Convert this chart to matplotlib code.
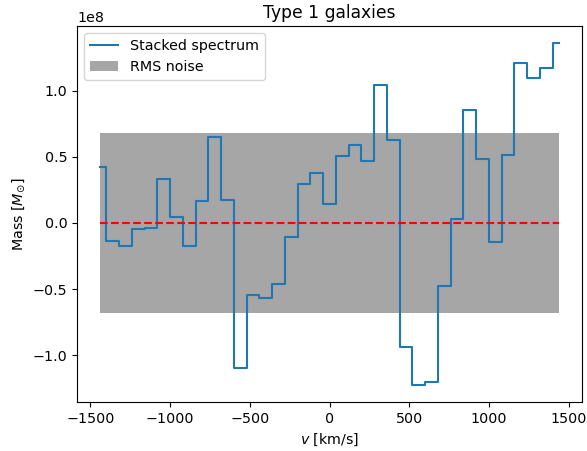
import numpy as np
import matplotlib
matplotlib.use("Agg")
import matplotlib.pyplot as plt

plt.rcParams['font.size'] = 10.3

# velocity channel centres (km/s)
velocity = [-1440, -1360, -1280, -1200, -1120, -1040, -960, -880, -800,
            -720, -640, -560, -480, -400, -320, -240, -160, -80, 0,
            80, 160, 240, 320, 400, 480, 560, 640, 720, 800,
            880, 960, 1040, 1120, 1200, 1280, 1360, 1440]

# stacked mass per channel, units of 1e8 Msun
mass_1e8 = [0.424, -0.139, -0.174, -0.048, -0.038, 0.329, 0.045, -0.174, 0.163,
            0.647, 0.177, -1.096, -0.543, -0.570, -0.459, -0.108, 0.293, 0.376, 0.142,
            0.508, 0.586, 0.470, 1.045, 0.627, -0.934, -1.224, -1.204, -0.480, 0.030,
            0.851, 0.485, -0.146, 0.515, 1.205, 1.094, 1.172, 1.359]

rms_1e8 = 0.68

v = np.array(velocity)
mass = np.array(mass_1e8) * 1e8
rms = rms_1e8 * 1e8

fig = plt.figure(figsize=(5.87, 4.51), dpi=100)
ax = fig.add_axes([77 / 587, 49 / 451, 505 / 587, 376 / 451])

ax.step(v, mass, where='mid', label='Stacked spectrum')
ax.fill_between([v[0], v[-1]], -rms, rms, color='gray', alpha=0.7,
                linewidth=0, label='RMS noise')
ax.plot([v[0], v[-1]], [0, 0], 'r--')

ax.set_xlabel(r'$v$ [km/s]')
ax.set_ylabel(r'Mass [$M_{\odot}$]')
ax.set_title('Type 1 galaxies')
ax.legend(loc='upper left')

fig.savefig('out.png', dpi=100)
